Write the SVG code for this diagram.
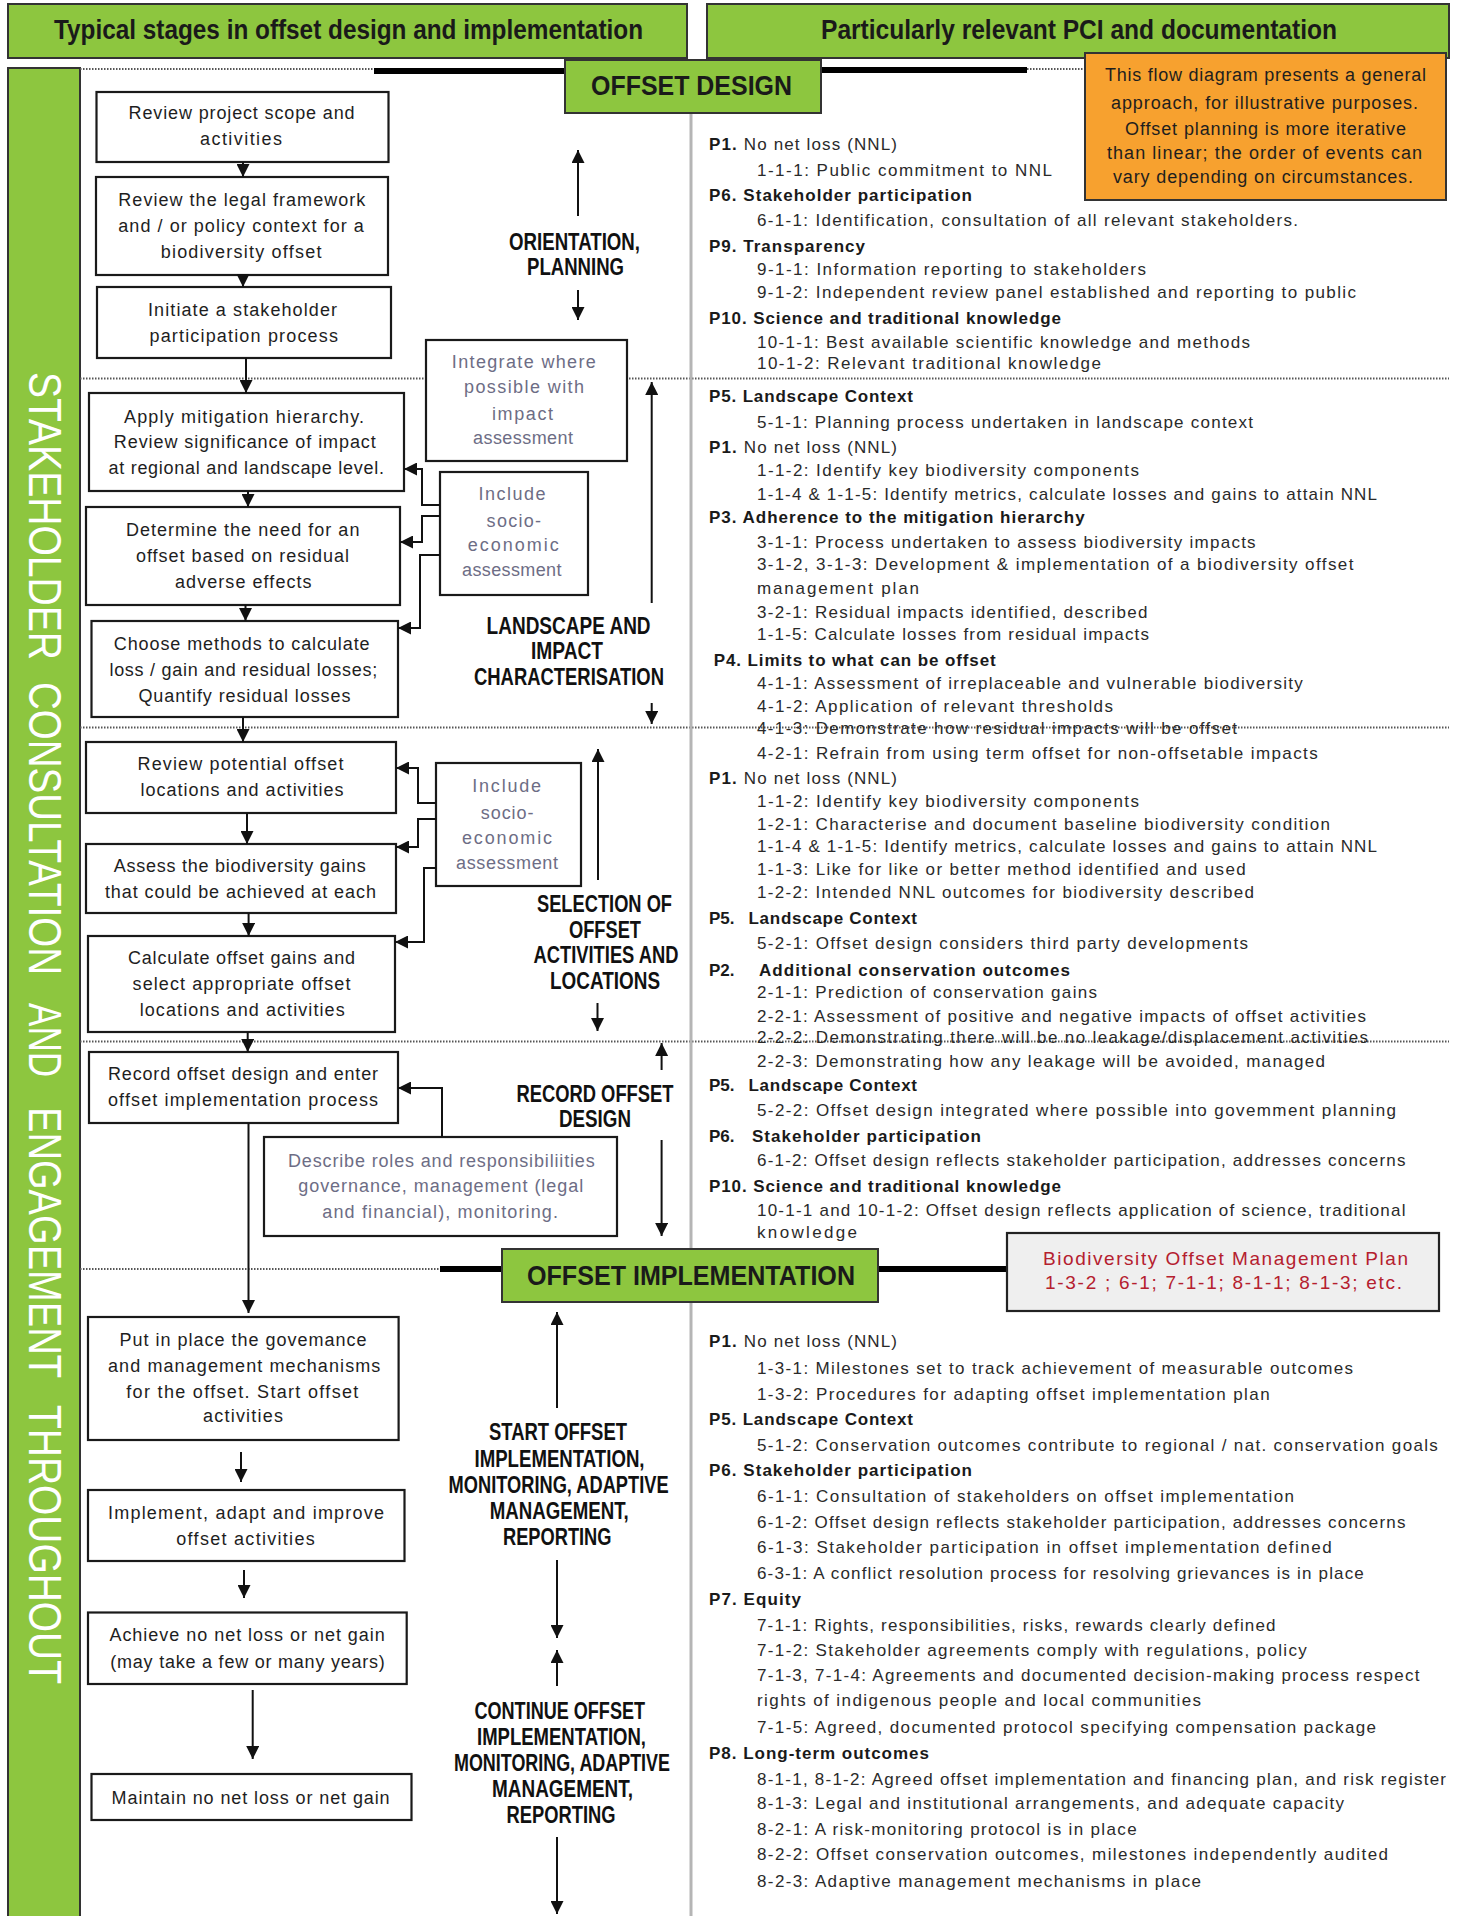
<svg xmlns="http://www.w3.org/2000/svg" width="1458" height="1916" viewBox="0 0 1458 1916">
<defs>
<marker id="ah" viewBox="0 0 10 10" refX="10" refY="5" markerWidth="13" markerHeight="13" markerUnits="userSpaceOnUse" orient="auto"><path d="M0,0 L10,5 L0,10 z" fill="#111"/></marker>
<style>
.green{fill:#8DC63F;stroke:#333;stroke-width:2}
.box{fill:#fff;stroke:#1a1a1a;stroke-width:2.2}
.bt{font-family:"Liberation Sans",Arial,sans-serif;font-size:18px;fill:#1e1e1e}
.gt{font-family:"Liberation Sans",Arial,sans-serif;font-size:18px;fill:#6d6d85}
.stage{font-family:"Liberation Sans",Arial,sans-serif;font-weight:bold;font-size:23px;fill:#111}
.hd{font-family:"Liberation Sans",Arial,sans-serif;font-weight:bold;font-size:27px;fill:#1a1a1a}
.rt{font-family:"Liberation Sans",Arial,sans-serif;font-size:17px;fill:#2a2a2a}
.rh{font-family:"Liberation Sans",Arial,sans-serif;font-size:17px;font-weight:bold;fill:#1a1a1a}
.sep{stroke:#555;stroke-width:1.8;stroke-dasharray:1.5 1.5;fill:none}
.thick{stroke:#000;stroke-width:6;fill:none}
.con{fill:none;stroke:#111;stroke-width:2;marker-end:url(#ah)}
.vt{font-family:"Liberation Sans",Arial,sans-serif;font-size:46px;fill:#fff}
</style>
</defs>
<rect width="1458" height="1916" fill="#fff"/>

<g id="headers">
<rect class="green" x="8" y="4" width="679" height="54"/>
<text class="hd" x="54" y="39" textLength="589" lengthAdjust="spacingAndGlyphs">Typical stages in offset design and implementation</text>
<rect class="green" x="707" y="4" width="742" height="54"/>
<text class="hd" x="821" y="39" textLength="516" lengthAdjust="spacingAndGlyphs">Particularly relevant PCI and documentation</text>
</g>

<g id="band">
<rect class="green" x="8" y="68" width="72" height="1850"/>
<g transform="translate(29,0) rotate(90)">
<text class="vt" x="372" y="0" textLength="288" lengthAdjust="spacingAndGlyphs">STAKEHOLDER</text>
<text class="vt" x="682" y="0" textLength="293" lengthAdjust="spacingAndGlyphs">CONSULTATION</text>
<text class="vt" x="1003" y="0" textLength="74" lengthAdjust="spacingAndGlyphs">AND</text>
<text class="vt" x="1107" y="0" textLength="271" lengthAdjust="spacingAndGlyphs">ENGAGEMENT</text>
<text class="vt" x="1405" y="0" textLength="279" lengthAdjust="spacingAndGlyphs">THROUGHOUT</text>
</g>
</g>

<g id="separators">
<line class="sep" x1="80" y1="69" x2="374" y2="69"/>
<line class="thick" x1="374" y1="71" x2="566" y2="71"/>
<line class="thick" x1="820" y1="70" x2="1027" y2="70"/>
<line class="sep" x1="1027" y1="69" x2="1085" y2="69"/>
<line class="sep" x1="80" y1="378.5" x2="1449" y2="378.5"/>
<line class="sep" x1="80" y1="727.5" x2="1449" y2="727.5"/>
<line class="sep" x1="80" y1="1041.5" x2="1449" y2="1041.5"/>
<line class="sep" x1="80" y1="1269" x2="440" y2="1269"/>
<line class="thick" x1="440" y1="1269" x2="503" y2="1269"/>
<line class="thick" x1="877" y1="1269" x2="1008" y2="1269"/>
<line x1="691" y1="113" x2="691" y2="1249" stroke="#b5b5b5" stroke-width="3"/>
<line x1="691" y1="1302" x2="691" y2="1916" stroke="#b5b5b5" stroke-width="3"/>
</g>

<g id="offset-design">
<rect class="green" x="565" y="60" width="256" height="53"/>
<text class="hd" x="591" y="95" textLength="201" lengthAdjust="spacingAndGlyphs">OFFSET DESIGN</text>
</g>

<g id="note">
<rect x="1085" y="53" width="361" height="147" fill="#F7A12F" stroke="#333" stroke-width="2"/>
<g class="bt" fill="#2a2a2a">
<text x="1105" y="81" textLength="321">This flow diagram presents a general</text>
<text x="1111" y="109" textLength="307">approach, for illustrative purposes.</text>
<text x="1125" y="135" textLength="281">Offset planning is more iterative</text>
<text x="1107" y="159" textLength="315">than linear; the order of events  can</text>
<text x="1113" y="183" textLength="300">vary depending on circumstances.</text>
</g>
</g>

<g id="offset-implementation">
<rect class="green" x="502" y="1249" width="376" height="53"/>
<text class="hd" x="527" y="1285" textLength="328" lengthAdjust="spacingAndGlyphs">OFFSET IMPLEMENTATION</text>
</g>

<g id="bomp">
<rect x="1007" y="1233" width="432" height="78" fill="#efefef" stroke="#222" stroke-width="2.2"/>
<text x="1043" y="1265" textLength="365" font-family="Liberation Sans, Arial, sans-serif" font-size="19" fill="#B5202E">Biodiversity Offset Management Plan</text>
<text x="1045" y="1289" textLength="357" font-family="Liberation Sans, Arial, sans-serif" font-size="19" fill="#B5202E">1-3-2 ; 6-1; 7-1-1; 8-1-1; 8-1-3; etc.</text>
</g>

<g id="n1"><rect class="box" x="96.5" y="92" width="292" height="70"/>
<text class="bt" x="128.6" y="119.3" textLength="226">Review project scope and</text>
<text class="bt" x="200" y="145.3" textLength="82">activities</text></g>

<g id="n2"><rect class="box" x="96" y="177" width="292" height="98"/>
<text class="bt" x="118.3" y="206" textLength="247">Review the legal framework</text>
<text class="bt" x="118.3" y="232" textLength="245.5">and / or policy context for a</text>
<text class="bt" x="160.7" y="257.7" textLength="160.7">biodiversity offset</text></g>

<g id="n3"><rect class="box" x="97" y="287" width="294" height="71"/>
<text class="bt" x="148" y="316" textLength="189">Initiate a stakeholder</text>
<text class="bt" x="149.5" y="342" textLength="188.4">participation process</text></g>

<g id="n4"><rect class="box" x="426" y="340" width="201" height="121"/>
<text class="gt" x="451.8" y="367.7" textLength="144">Integrate where</text>
<text class="gt" x="464" y="392.7" textLength="120">possible with</text>
<text class="gt" x="492" y="420" textLength="61">impact</text>
<text class="gt" x="473" y="444.3" textLength="100">assessment</text></g>

<g id="n5"><rect class="box" x="89" y="393" width="315" height="98"/>
<text class="bt" x="124" y="422.7" textLength="240">Apply mitigation hierarchy.</text>
<text class="bt" x="113.8" y="447.7" textLength="262">Review significance of impact</text>
<text class="bt" x="108.5" y="474.3" textLength="275.4">at regional and landscape level.</text></g>

<g id="n6"><rect class="box" x="440" y="472" width="148" height="123"/>
<text class="gt" x="478.5" y="500" textLength="67">Include</text>
<text class="gt" x="486.6" y="526.7" textLength="54.5">socio-</text>
<text class="gt" x="467.8" y="551" textLength="91">economic</text>
<text class="gt" x="462" y="576" textLength="99.5">assessment</text></g>

<g id="n7"><rect class="box" x="86" y="507" width="314" height="98"/>
<text class="bt" x="125.9" y="536" textLength="233.5">Determine the need for an</text>
<text class="bt" x="136" y="562" textLength="213">offset based on residual</text>
<text class="bt" x="175" y="587.7" textLength="136.6">adverse effects</text></g>

<g id="n8"><rect class="box" x="91.5" y="621" width="306.5" height="96"/>
<text class="bt" x="113.8" y="650" textLength="255.8">Choose methods to calculate</text>
<text class="bt" x="109.4" y="676" textLength="267.8">loss / gain and residual losses;</text>
<text class="bt" x="138.4" y="702" textLength="212">Quantify residual losses</text></g>

<g id="n9"><rect class="box" x="86" y="742" width="310" height="71"/>
<text class="bt" x="137.5" y="770" textLength="206">Review potential offset</text>
<text class="bt" x="140.6" y="796" textLength="203">locations and activities</text></g>

<g id="n10"><rect class="box" x="436" y="763" width="145" height="123"/>
<text class="gt" x="472.3" y="792" textLength="68.7">Include</text>
<text class="gt" x="480.8" y="818.7" textLength="52.7">socio-</text>
<text class="gt" x="462" y="844.3" textLength="90">economic</text>
<text class="gt" x="456" y="868.7" textLength="102">assessment</text></g>

<g id="n11"><rect class="box" x="86" y="844" width="310" height="69"/>
<text class="bt" x="113.8" y="872" textLength="252">Assess the biodiversity gains</text>
<text class="bt" x="104.9" y="897.7" textLength="271">that could be achieved at each</text></g>

<g id="n12"><rect class="box" x="88" y="936" width="307" height="96"/>
<text class="bt" x="128" y="964.3" textLength="227">Calculate offset gains and</text>
<text class="bt" x="132.6" y="990.3" textLength="217.8">select appropriate offset</text>
<text class="bt" x="139.7" y="1016" textLength="205">locations and activities</text></g>

<g id="n13"><rect class="box" x="89" y="1052" width="309" height="71"/>
<text class="bt" x="108" y="1080" textLength="270">Record offset design and enter</text>
<text class="bt" x="108" y="1106" textLength="270">offset implementation process</text></g>

<g id="n14"><rect class="box" x="264" y="1137" width="353" height="99"/>
<text class="gt" x="288" y="1166.7" textLength="306.7">Describe roles and responsibiliities</text>
<text class="gt" x="298.2" y="1192" textLength="285">governance, management (legal</text>
<text class="gt" x="322.3" y="1217.7" textLength="235.7">and financial), monitoring.</text></g>

<g id="n15"><rect class="box" x="88" y="1317" width="310.6" height="123"/>
<text class="bt" x="119.6" y="1346.2" textLength="247">Put in place the govemance</text>
<text class="bt" x="108" y="1371.7" textLength="272.3">and management mechanisms</text>
<text class="bt" x="126.3" y="1397.7" textLength="232">for the offset. Start offset</text>
<text class="bt" x="203" y="1422" textLength="80">activities</text></g>

<g id="n16"><rect class="box" x="88" y="1490" width="316.5" height="71"/>
<text class="bt" x="108" y="1519" textLength="276">Implement, adapt and improve</text>
<text class="bt" x="176.3" y="1545.3" textLength="138.4">offset activities</text></g>

<g id="n17"><rect class="box" x="88" y="1612.5" width="318.7" height="71.5"/>
<text class="bt" x="109.4" y="1641" textLength="275.4">Achieve no net loss or net gain</text>
<text class="bt" x="110.3" y="1667.5" textLength="274.5">(may take a few or many years)</text></g>

<g id="n18"><rect class="box" x="91.5" y="1774" width="320" height="46"/>
<text class="bt" x="111.6" y="1803.6" textLength="278">Maintain no net loss or net gain</text></g>

<g id="stage-labels">
<text class="stage" x="509" y="250" textLength="131" lengthAdjust="spacingAndGlyphs">ORIENTATION,</text>
<text class="stage" x="527" y="275" textLength="97" lengthAdjust="spacingAndGlyphs">PLANNING</text>
<text class="stage" x="486.6" y="633.5" textLength="164" lengthAdjust="spacingAndGlyphs">LANDSCAPE AND</text>
<text class="stage" x="531" y="658.5" textLength="72" lengthAdjust="spacingAndGlyphs">IMPACT</text>
<text class="stage" x="474" y="684.5" textLength="190" lengthAdjust="spacingAndGlyphs">CHARACTERISATION</text>
<text class="stage" x="537" y="911.5" textLength="135" lengthAdjust="spacingAndGlyphs">SELECTION OF</text>
<text class="stage" x="569" y="937.5" textLength="72" lengthAdjust="spacingAndGlyphs">OFFSET</text>
<text class="stage" x="533.5" y="962.5" textLength="145" lengthAdjust="spacingAndGlyphs">ACTIVITIES AND</text>
<text class="stage" x="550" y="988.5" textLength="110" lengthAdjust="spacingAndGlyphs">LOCATIONS</text>
<text class="stage" x="516.5" y="1101.5" textLength="157" lengthAdjust="spacingAndGlyphs">RECORD OFFSET</text>
<text class="stage" x="559" y="1126.5" textLength="72" lengthAdjust="spacingAndGlyphs">DESIGN</text>
<text class="stage" x="489" y="1440" textLength="138" lengthAdjust="spacingAndGlyphs">START OFFSET</text>
<text class="stage" x="474.5" y="1466.5" textLength="170" lengthAdjust="spacingAndGlyphs">IMPLEMENTATION,</text>
<text class="stage" x="448.6" y="1492.5" textLength="220" lengthAdjust="spacingAndGlyphs">MONITORING, ADAPTIVE</text>
<text class="stage" x="489.7" y="1518.5" textLength="139" lengthAdjust="spacingAndGlyphs">MANAGEMENT,</text>
<text class="stage" x="503" y="1544.5" textLength="108.5" lengthAdjust="spacingAndGlyphs">REPORTING</text>
<text class="stage" x="474.5" y="1718.5" textLength="170.5" lengthAdjust="spacingAndGlyphs">CONTINUE OFFSET</text>
<text class="stage" x="477" y="1744.5" textLength="169" lengthAdjust="spacingAndGlyphs">IMPLEMENTATION,</text>
<text class="stage" x="454" y="1770.5" textLength="216" lengthAdjust="spacingAndGlyphs">MONITORING, ADAPTIVE</text>
<text class="stage" x="492" y="1796.5" textLength="141" lengthAdjust="spacingAndGlyphs">MANAGEMENT,</text>
<text class="stage" x="506.6" y="1822.5" textLength="109" lengthAdjust="spacingAndGlyphs">REPORTING</text>
</g>

<g id="connectors">
<line class="con" x1="243" y1="162" x2="243" y2="177"/>
<line class="con" x1="243" y1="275" x2="243" y2="287"/>
<line class="con" x1="246" y1="358" x2="246" y2="393"/>
<line class="con" x1="248" y1="491" x2="248" y2="507"/>
<line class="con" x1="245.5" y1="605" x2="245.5" y2="621"/>
<line class="con" x1="243" y1="717" x2="243" y2="742"/>
<line class="con" x1="247" y1="813" x2="247" y2="844"/>
<line class="con" x1="248.6" y1="913" x2="248.6" y2="936"/>
<line class="con" x1="247.7" y1="1032" x2="247.7" y2="1052"/>
<line class="con" x1="248.5" y1="1123" x2="248.5" y2="1313"/>
<line class="con" x1="241" y1="1452" x2="241" y2="1482"/>
<line class="con" x1="244" y1="1570" x2="244" y2="1598"/>
<line class="con" x1="252.7" y1="1690" x2="252.7" y2="1759"/>
<path class="con" d="M440,505 H422 V469 H404"/>
<path class="con" d="M440,516 H422 V542 H400"/>
<path class="con" d="M440,555 H420 V628 H398"/>
<path class="con" d="M436,803 H418 V768 H396"/>
<path class="con" d="M436,819 H418 V847 H396"/>
<path class="con" d="M436,868 H424 V942 H395"/>
<path class="con" d="M442,1137 V1088 H398"/>
<line class="con" x1="578" y1="216" x2="578" y2="150"/>
<line class="con" x1="578" y1="290" x2="578" y2="320"/>
<line class="con" x1="651.7" y1="603" x2="651.7" y2="382"/>
<line class="con" x1="651.7" y1="703" x2="651.7" y2="724"/>
<line class="con" x1="598" y1="880" x2="598" y2="749"/>
<line class="con" x1="597.5" y1="1003" x2="597.5" y2="1031"/>
<line class="con" x1="661.6" y1="1070" x2="661.6" y2="1043"/>
<line class="con" x1="661.6" y1="1140" x2="661.6" y2="1236"/>
<line class="con" x1="557" y1="1408" x2="557" y2="1312"/>
<line class="con" x1="557" y1="1560" x2="557" y2="1638"/>
<line class="con" x1="557" y1="1686" x2="557" y2="1650"/>
<line class="con" x1="557" y1="1837" x2="557" y2="1914"/>
</g>

<g id="pci-text">
<text class="rt" x="709" y="150" textLength="188"><tspan class="rh">P1.</tspan> No net loss (NNL)</text>
<text class="rt" x="757" y="176" textLength="295">1-1-1: Public commitment to NNL</text>
<text class="rh" x="709" y="201" textLength="263">P6. Stakeholder participation</text>
<text class="rt" x="757" y="226" textLength="541">6-1-1: Identification, consultation of all relevant stakeholders.</text>
<text class="rh" x="709" y="252" textLength="156">P9. Transparency</text>
<text class="rt" x="757" y="275" textLength="389">9-1-1: Information reporting to stakeholders</text>
<text class="rt" x="757" y="298" textLength="599">9-1-2: Independent review panel established and reporting to public</text>
<text class="rh" x="709" y="324" textLength="352">P10. Science and traditional knowledge</text>
<text class="rt" x="757" y="348" textLength="493">10-1-1: Best available scientific knowledge and methods</text>
<text class="rt" x="757" y="369" textLength="344">10-1-2: Relevant traditional knowledge</text>

<text class="rh" x="709" y="402" textLength="204">P5. Landscape Context</text>
<text class="rt" x="757" y="427.7" textLength="496">5-1-1: Planning process undertaken in landscape context</text>
<text class="rt" x="709" y="453.3" textLength="188"><tspan class="rh">P1.</tspan> No net loss (NNL)</text>
<text class="rt" x="757" y="476" textLength="382">1-1-2: Identify key biodiversity components</text>
<text class="rt" x="757" y="500" textLength="620">1-1-4 &amp; 1-1-5: Identify metrics, calculate losses and gains to attain NNL</text>
<text class="rh" x="709" y="523.3" textLength="375.6">P3. Adherence to the mitigation hierarchy</text>
<text class="rt" x="757" y="547.7" textLength="498.6">3-1-1:  Process undertaken to assess biodiversity impacts</text>
<text class="rt" x="757" y="570" textLength="596.4">3-1-2, 3-1-3: Development &amp; implementation of a biodiversity offset</text>
<text class="rt" x="757" y="594.3" textLength="162">management plan</text>
<text class="rt" x="757" y="617.7" textLength="390.5">3-2-1: Residual impacts identified, described</text>
<text class="rt" x="757" y="640" textLength="392">1-1-5: Calculate losses from residual impacts</text>
<text class="rh" x="713.7" y="666" textLength="282">P4. Limits to what can be offset</text>
<text class="rt" x="757" y="688.7" textLength="545.8">4-1-1: Assessment of irreplaceable and vulnerable biodiversity</text>
<text class="rt" x="757" y="712" textLength="356">4-1-2: Application of relevant thresholds</text>
<text class="rt" x="757" y="734.3" textLength="480">4-1-3: Demonstrate how residual impacts will be offset</text>
<text class="rt" x="757" y="758.7" textLength="560.7">4-2-1: Refrain from using term offset for non-offsetable impacts</text>

<text class="rt" x="709" y="784.3" textLength="188"><tspan class="rh">P1.</tspan> No net loss (NNL)</text>
<text class="rt" x="757" y="806.7" textLength="382">1-1-2: Identify key biodiversity components</text>
<text class="rt" x="757" y="830" textLength="573">1-2-1: Characterise and document baseline biodiversity condition</text>
<text class="rt" x="757" y="852" textLength="620">1-1-4 &amp; 1-1-5: Identify metrics, calculate losses and gains to attain NNL</text>
<text class="rt" x="757" y="875.3" textLength="488.7">1-1-3: Like for like or better method identified and used</text>
<text class="rt" x="757" y="897.7" textLength="497">1-2-2: Intended NNL outcomes for biodiversity described</text>
<text class="rh" y="924.3"><tspan x="709">P5.</tspan><tspan x="748.5" textLength="168.5">Landscape Context</tspan></text>
<text class="rt" x="757" y="949.3" textLength="491">5-2-1: Offset design considers third party developments</text>
<text class="rh" y="976"><tspan x="709">P2.</tspan><tspan x="759" textLength="311">Additional conservation outcomes</tspan></text>
<text class="rt" x="757" y="997.7" textLength="340">2-1-1: Prediction of conservation gains</text>
<text class="rt" x="757" y="1022" textLength="609">2-2-1: Assessment of positive and negative impacts of offset activities</text>
<text class="rt" x="757" y="1042.7" textLength="611">2-2-2: Demonstrating there will be no leakage/displacement activities</text>
<text class="rt" x="757" y="1066.7" textLength="568">2-2-3: Demonstrating how any leakage will be avoided, managed</text>
<text class="rh" y="1091"><tspan x="709">P5.</tspan><tspan x="748.5" textLength="168.5">Landscape Context</tspan></text>
<text class="rt" x="757" y="1116" textLength="639">5-2-2: Offset design integrated where possible into govemment planning</text>
<text class="rh" y="1142"><tspan x="709">P6.</tspan><tspan x="752" textLength="229">Stakeholder participation</tspan></text>
<text class="rt" x="757" y="1166" textLength="648.5">6-1-2: Offset design reflects stakeholder participation, addresses concerns</text>
<text class="rh" x="709" y="1192" textLength="352">P10. Science and traditional knowledge</text>
<text class="rt" x="757" y="1216" textLength="648.5">10-1-1 and 10-1-2: Offset design reflects application of science, traditional</text>
<text class="rt" x="757" y="1237.7" textLength="100">knowledge</text>

<text class="rt" x="709" y="1347.3" textLength="188"><tspan class="rh">P1.</tspan> No net loss (NNL)</text>
<text class="rt" x="757" y="1374" textLength="596">1-3-1: Milestones set to track achievement of measurable outcomes</text>
<text class="rt" x="757" y="1400.4" textLength="512.6">1-3-2: Procedures for adapting offset implementation plan</text>
<text class="rh" x="709" y="1424.6" textLength="204">P5. Landscape Context</text>
<text class="rt" x="757" y="1450.6" textLength="680.8">5-1-2: Conservation outcomes contribute to regional / nat. conservation goals</text>
<text class="rh" x="709" y="1476" textLength="263">P6. Stakeholder participation</text>
<text class="rt" x="757" y="1502.4" textLength="537">6-1-1: Consultation of stakeholders on offset implementation</text>
<text class="rt" x="757" y="1527.9" textLength="648.5">6-1-2: Offset design reflects stakeholder participation, addresses concerns</text>
<text class="rt" x="757" y="1552.5" textLength="574.6">6-1-3: Stakeholder participation in offset implementation defined</text>
<text class="rt" x="757" y="1578.9" textLength="606.8">6-3-1: A conflict resolution process for resolving grievances is in place</text>
<text class="rh" x="709" y="1605.2" textLength="92">P7. Equity</text>
<text class="rt" x="757" y="1630.7" textLength="518.5">7-1-1: Rights, responsibilities, risks, rewards clearly defined</text>
<text class="rt" x="757" y="1656.2" textLength="549.8">7-1-2: Stakeholder agreements comply with regulations, policy</text>
<text class="rt" x="757" y="1680.8" textLength="662.4">7-1-3, 7-1-4: Agreements and documented decision-making process respect</text>
<text class="rt" x="757" y="1706.3" textLength="444">rights of indigenous people and local communities</text>
<text class="rt" x="757" y="1732.6" textLength="619">7-1-5: Agreed, documented protocol specifying compensation package</text>
<text class="rh" x="709" y="1758.5" textLength="220">P8. Long-term outcomes</text>
<text class="rt" x="757" y="1784.9" textLength="689">8-1-1, 8-1-2: Agreed offset implementation and financing plan, and risk register</text>
<text class="rt" x="757" y="1809.1" textLength="587">8-1-3: Legal and institutional arrangements, and adequate capacity</text>
<text class="rt" x="757" y="1834.6" textLength="379.6">8-2-1: A risk-monitoring protocol is in place</text>
<text class="rt" x="757" y="1860" textLength="631">8-2-2: Offset conservation outcomes, milestones independently audited</text>
<text class="rt" x="757" y="1886.8" textLength="444">8-2-3: Adaptive management mechanisms in place</text>
</g>
</svg>
